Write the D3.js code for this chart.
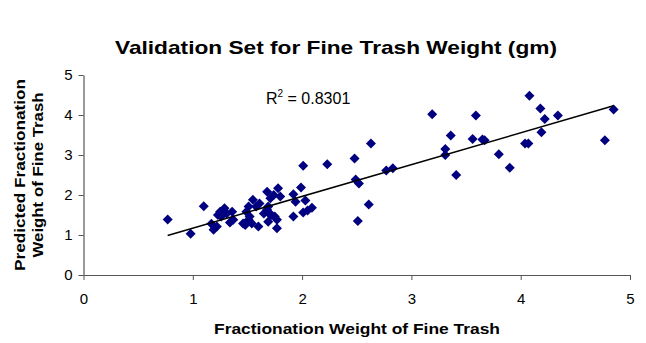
<!DOCTYPE html>
<html>
<head>
<meta charset="utf-8">
<script src="https://cdn.jsdelivr.net/npm/d3@7"></script>
<style>
  body { margin: 0; background: #fff; }
  text { font-family: Arial, "Liberation Sans", sans-serif; }
</style>
</head>
<body>
<div id="chart"></div>
<script>
// chart texts
const chart_title = 'Validation Set for Fine Trash Weight (gm)'
const x_title = 'Fractionation Weight of Fine Trash'
const y_title_lines = ['Predicted Fractionation', 'Weight of Fine Trash']
const r2_label = '0.8301'

// tick values
const x_ticks = [0, 1, 2, 3, 4, 5]
const y_ticks = [0, 1, 2, 3, 4, 5]

const fraction_weight = [
  0.77, 0.98, 1.10,
  1.17, 1.19, 1.22, 1.25, 1.29, 1.31, 1.36, 1.26, 1.34, 1.37, 1.28, 1.23,
  1.49, 1.52, 1.48, 1.51, 1.55, 1.58, 1.61, 1.65, 1.60, 1.68, 1.71, 1.78, 1.80,
  1.69, 1.71, 1.75, 1.77, 1.51, 1.46, 1.54, 1.68, 1.74, 1.72, 1.69, 1.77,
  1.92, 1.99, 1.94, 2.03, 2.09, 2.05, 2.01, 1.92, 2.01, 2.23,
  2.48, 2.63, 2.49, 2.52, 2.61, 2.51, 2.77, 2.83,
  3.19, 3.59, 3.36, 3.56, 3.65, 3.67, 3.31, 3.31, 3.80, 3.90, 3.41,
  4.08, 4.18, 4.22, 4.34, 4.19, 4.04, 4.07, 4.77, 4.85
]
const predicted_weight = [
  1.39, 1.03, 1.72,
  1.28, 1.13, 1.21, 1.58, 1.67, 1.54, 1.58, 1.46, 1.31, 1.38, 1.62, 1.50,
  1.58, 1.46, 1.25, 1.38, 1.88, 1.71, 1.79, 1.54, 1.21, 2.08, 1.92, 2.17, 1.96,
  1.71, 1.50, 1.46, 1.17, 1.71, 1.29, 1.29, 1.63, 2.00, 1.50, 1.33, 1.38,
  2.02, 2.19, 1.83, 1.86, 1.68, 1.61, 1.56, 1.46, 2.73, 2.77,
  2.91, 3.29, 2.39, 2.29, 1.76, 1.35, 2.61, 2.67,
  4.02, 3.99, 3.49, 3.40, 3.39, 3.37, 3.15, 3.00, 3.02, 2.68, 2.50,
  4.48, 4.16, 3.90, 3.99, 3.57, 3.29, 3.29, 3.37, 4.14
]

const width = 646
const height = 343
const margin = { top: 75, right: 16, bottom: 68, left: 83.5 }

const svg = d3.select('#chart')
  .append('svg')
  .attr('width', width)
  .attr('height', height)

const x = d3.scaleLinear()
  .domain([0, 5])
  .range([margin.left, width - margin.right])

const y = d3.scaleLinear()
  .domain([0, 5])
  .range([height - margin.bottom, margin.top])

// title (the original text is stretched wide, hence textLength)
svg.append('text')
  .attr('x', 115)
  .attr('y', 54)
  .attr('font-size', '19px')
  .attr('font-weight', 'bold')
  .attr('textLength', 442)
  .attr('lengthAdjust', 'spacingAndGlyphs')
  .text(chart_title)

// axes
const x_axis = svg.append('g')
  .attr('transform', 'translate(0,' + y(0) + ')')
  .call(d3.axisBottom(x).tickValues(x_ticks).tickFormat(d3.format('d'))
    .tickSize(5).tickSizeOuter(0).tickPadding(13))
const y_axis = svg.append('g')
  .attr('transform', 'translate(' + x(0) + ',0)')
  .call(d3.axisLeft(y).tickValues(y_ticks).tickFormat(d3.format('d'))
    .tickSize(5).tickSizeOuter(0).tickPadding(6))

for (const g of [x_axis, y_axis]) {
  g.select('.domain').attr('stroke', '#555').attr('stroke-width', 1.2)
  g.selectAll('.tick line').attr('stroke', '#555')
  g.selectAll('.tick text')
    .attr('font-size', '15px')
    .attr('font-family', 'Arial, "Liberation Sans", sans-serif')
    .attr('fill', '#000')
}

svg.append('text')
  .attr('x', 214)
  .attr('y', 334)
  .attr('font-size', '15px')
  .attr('font-weight', 'bold')
  .attr('textLength', 286)
  .attr('lengthAdjust', 'spacingAndGlyphs')
  .text(x_title)

const y_title_lengths = [192, 165]
y_title_lines.forEach((line, i) => {
  svg.append('text')
    .attr('transform', 'translate(' + (25 + i * 18) + ',' + y(2.5) + ') rotate(-90)')
    .attr('x', -y_title_lengths[i] / 2)
    .attr('font-size', '15px')
    .attr('font-weight', 'bold')
    .attr('textLength', y_title_lengths[i])
    .attr('lengthAdjust', 'spacingAndGlyphs')
    .text(line)
})

// points
const points = fraction_weight.map((v, i) => ({ x: v, y: predicted_weight[i] }))

// linear trend line, least squares over the points
const mean_x = d3.mean(points, d => d.x)
const mean_y = d3.mean(points, d => d.y)
const slope = d3.sum(points, d => (d.x - mean_x) * (d.y - mean_y)) /
  d3.sum(points, d => (d.x - mean_x) ** 2)
const intercept = mean_y - slope * mean_x
const x_ext = d3.extent(points, d => d.x)

svg.append('g')
  .selectAll('path')
  .data(points)
  .enter()
  .append('path')
  .attr('d', d3.symbol(d3.symbolSquare, 50))
  .attr('transform', d => 'translate(' + x(d.x) + ',' + y(d.y) + ') rotate(45)')
  .attr('fill', '#000080')

svg.append('line')
  .attr('x1', x(x_ext[0]))
  .attr('y1', y(intercept + slope * x_ext[0]))
  .attr('x2', x(x_ext[1]))
  .attr('y2', y(intercept + slope * x_ext[1]))
  .attr('stroke', '#000')
  .attr('stroke-width', 1.5)

// R squared label
const r2 = svg.append('text')
  .attr('x', 266)
  .attr('y', 104)
  .attr('font-size', '16px')
r2.append('tspan').text('R')
r2.append('tspan').attr('dy', -7).attr('font-size', '10px').text('2')
r2.append('tspan').attr('dy', 7).text(' = ' + r2_label)
</script>
</body>
</html>
